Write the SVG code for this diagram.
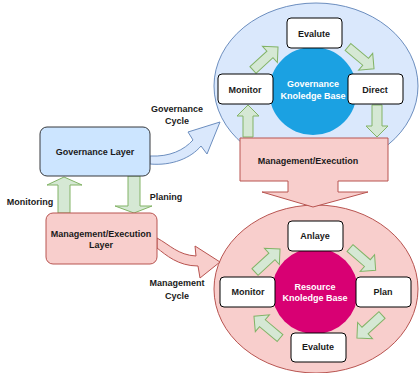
<svg xmlns="http://www.w3.org/2000/svg" xmlns:xlink="http://www.w3.org/1999/xlink" width="419" height="373" viewBox="0 0 419 373">
  <style>
    text { font-family: "Liberation Sans", Arial, sans-serif; font-size: 9px; font-weight: bold; fill: #1a1a1a; text-anchor: middle; }
    .wt { fill: #ffffff; }
    .box { fill: #ffffff; stroke: #000000; stroke-width: 1; }
    .step { fill: #d5e8d4; stroke: #82b366; stroke-width: 1; }
    .blue { fill: #dae8fc; stroke: #6c8ebf; stroke-width: 1; }
    .red { fill: #f8cecc; stroke: #b85450; stroke-width: 1; }
    .layerBlue { fill: #cce5ff; stroke: #36393d; stroke-width: 1; }
  </style>
  <defs>
    <!-- short block arrow pointing along +x, tail at origin -->
    <path id="step" d="M0,-4.5 H23 V-11 L34,0 L23,11 V4.5 H0 Z"/>
  </defs>

  <!-- governance cycle -->
  <g id="governance-cycle">
    <ellipse class="blue" cx="316" cy="86" rx="102" ry="83"/>
    <circle cx="313" cy="91" r="44" fill="#1ba1e2"/>
    <text class="wt" x="313" y="87">Governance</text>
    <text class="wt" x="313" y="99">Knoledge Base</text>
  </g>

  <!-- resource cycle -->
  <g id="resource-cycle">
    <ellipse class="red" cx="316" cy="289" rx="102" ry="84"/>
    <circle cx="315" cy="291" r="43" fill="#d80073"/>
    <text class="wt" x="315" y="290">Resource</text>
    <text class="wt" x="315" y="301">Knoledge Base</text>
  </g>

  <!-- connectors -->
  <g id="connectors">
    <!-- governance loop -->
    <use xlink:href="#step" class="step" transform="translate(253,70) rotate(-42.6)"/>
    <use xlink:href="#step" class="step" transform="translate(348,47) rotate(40)"/>
    <polygon class="step" points="372,105 382,105 382,126 388,126 377,137 366,126 372,126"/>
    <polygon class="step" points="243,137 253,137 253,116 259,116 248,105 237,116 243,116"/>

    <!-- resource loop -->
    <use xlink:href="#step" class="step" transform="translate(255,272) rotate(-42.6)"/>
    <use xlink:href="#step" class="step" transform="translate(350,248) rotate(41)"/>
    <use xlink:href="#step" class="step" transform="translate(382,315) rotate(137.5)"/>
    <use xlink:href="#step" class="step" transform="translate(280,338) rotate(-140)"/>

    <!-- layer arrows -->
    <polygon class="step" points="58,213 70,213 70,185 82,185 64,177 47,185 58,185"/>
    <polygon class="step" points="128,176 140,176 140,206 152,206 134,213 115,206 128,206"/>

    <!-- cycle arrows -->
    <path class="blue" d="M150,156 C170,157 184,150 193,140 L188,132 L220,122 L207,154 L201,146 C191,158 172,166 150,164 Z"/>
    <path class="red" d="M157,238 C170,245 178,255 196,256 L195,246 L220,262 L200,278 L198,266 C178,266 166,255 157,248 Z"/>

    <!-- management/execution block arrow -->
    <polygon class="red" points="240,138 388,138 388,181 338,181 338,192 368,192 313,207 262,192 288,192 288,181 240,181"/>
  </g>
  <text x="308" y="164">Management/Execution</text>

  <!-- governance steps -->
  <g id="gov-evalute">
    <rect class="box" x="287" y="18" width="55" height="30" rx="4"/>
    <text x="314" y="37">Evalute</text>
  </g>
  <g id="gov-monitor">
    <rect class="box" x="218" y="74" width="55" height="30" rx="4"/>
    <text x="245" y="93">Monitor</text>
  </g>
  <g id="gov-direct">
    <rect class="box" x="348" y="74" width="55" height="30" rx="4"/>
    <text x="375" y="93">Direct</text>
  </g>

  <!-- resource steps -->
  <g id="res-anlaye">
    <rect class="box" x="288" y="221" width="55" height="30" rx="4"/>
    <text x="315" y="239">Anlaye</text>
  </g>
  <g id="res-monitor">
    <rect class="box" x="220" y="277" width="55" height="30" rx="4"/>
    <text x="248" y="295">Monitor</text>
  </g>
  <g id="res-plan">
    <rect class="box" x="356" y="277" width="55" height="30" rx="4"/>
    <text x="383" y="295">Plan</text>
  </g>
  <g id="res-evalute">
    <rect class="box" x="291" y="333" width="55" height="29" rx="4"/>
    <text x="318" y="350">Evalute</text>
  </g>

  <!-- layers -->
  <g id="governance-layer">
    <rect class="layerBlue" x="40" y="127" width="110" height="49" rx="7"/>
    <text x="95" y="155">Governance Layer</text>
  </g>
  <g id="management-layer">
    <rect class="red" x="46" y="213" width="111" height="51" rx="7"/>
    <text x="101" y="237">Management/Execution</text>
    <text x="101" y="248">Layer</text>
  </g>

  <!-- labels -->
  <g id="labels">
    <text x="177" y="112">Governance</text>
    <text x="177" y="124">Cycle</text>
    <text x="30" y="205">Monitoring</text>
    <text x="166" y="200">Planing</text>
    <text x="177" y="286">Management</text>
    <text x="177" y="299">Cycle</text>
  </g>
</svg>
